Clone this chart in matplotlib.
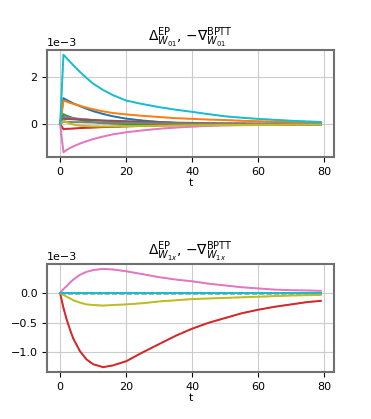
import numpy as np
import matplotlib
matplotlib.use("Agg")
import matplotlib.pyplot as plt

plt.rcParams['font.size'] = 8

# time steps at which values were read (units of 1e-3)
T = [0, 1, 2, 3, 4, 6, 8, 10, 13, 16, 20, 25, 30, 35, 40, 45, 50, 55, 60, 65, 70, 75, 79]

# W_01 panel, one curve per tab10 colour
w01_blue   = [0, 1.10, 1.02, 0.95, 0.88, 0.76, 0.65, 0.55, 0.43, 0.33, 0.23, 0.15, 0.09, 0.05, 0.02, 0.00, -0.01, -0.02, -0.02, -0.03, -0.03, -0.03, -0.03]
w01_orange = [0, 1.00, 0.95, 0.90, 0.86, 0.78, 0.70, 0.63, 0.54, 0.47, 0.41, 0.35, 0.30, 0.25, 0.22, 0.19, 0.17, 0.14, 0.12, 0.10, 0.08, 0.06, 0.05]
w01_green  = [0, 0.42, 0.35, 0.30, 0.25, 0.18, 0.12, 0.08, 0.04, 0.02, 0.00, -0.01, -0.01, -0.01, -0.01, -0.01, -0.01, 0.00, 0.00, 0.00, 0.00, 0.00, 0.00]
w01_red    = [0, -0.22, -0.20, -0.20, -0.19, -0.17, -0.16, -0.15, -0.13, -0.12, -0.10, -0.08, -0.06, -0.05, -0.04, -0.03, -0.02, -0.02, -0.01, -0.01, -0.01, 0.00, 0.00]
w01_purple = [0, 0.30, 0.28, 0.27, 0.25, 0.22, 0.20, 0.17, 0.14, 0.12, 0.09, 0.06, 0.04, 0.03, 0.02, 0.01, 0.01, 0.00, 0.00, 0.00, 0.00, 0.00, 0.00]
w01_brown  = [0, 0.22, 0.21, 0.21, 0.20, 0.19, 0.18, 0.17, 0.15, 0.14, 0.12, 0.10, 0.08, 0.06, 0.05, 0.04, 0.03, 0.03, 0.02, 0.02, 0.01, 0.01, 0.01]
w01_pink   = [0, -1.20, -1.10, -1.02, -0.95, -0.83, -0.73, -0.64, -0.53, -0.44, -0.35, -0.27, -0.20, -0.15, -0.11, -0.08, -0.06, -0.05, -0.04, -0.03, -0.02, -0.02, -0.01]
w01_gray   = [0, 0.10, 0.09, 0.09, 0.08, 0.08, 0.07, 0.07, 0.06, 0.05, 0.05, 0.04, 0.03, 0.03, 0.02, 0.02, 0.01, 0.01, 0.01, 0.01, 0.00, 0.00, 0.00]
w01_olive  = [0, 0.15, 0.08, 0.02, -0.02, -0.07, -0.09, -0.10, -0.10, -0.10, -0.09, -0.08, -0.07, -0.06, -0.05, -0.05, -0.04, -0.04, -0.03, -0.03, -0.02, -0.02, -0.02]
w01_cyan   = [0, 2.95, 2.80, 2.65, 2.50, 2.22, 1.96, 1.72, 1.45, 1.23, 1.00, 0.85, 0.72, 0.61, 0.52, 0.42, 0.33, 0.27, 0.22, 0.18, 0.14, 0.11, 0.09]

# W_1x panel
w1x_pink  = [0, 0.07, 0.12, 0.18, 0.23, 0.31, 0.36, 0.39, 0.41, 0.40, 0.37, 0.32, 0.27, 0.23, 0.20, 0.16, 0.13, 0.10, 0.08, 0.06, 0.05, 0.045, 0.04]
w1x_red   = [0, -0.25, -0.45, -0.62, -0.77, -0.98, -1.12, -1.20, -1.25, -1.22, -1.15, -1.00, -0.86, -0.72, -0.60, -0.50, -0.42, -0.34, -0.28, -0.23, -0.19, -0.15, -0.13]
w1x_olive = [0, -0.03, -0.06, -0.09, -0.12, -0.16, -0.19, -0.20, -0.21, -0.20, -0.19, -0.17, -0.14, -0.12, -0.10, -0.09, -0.08, -0.07, -0.06, -0.05, -0.04, -0.035, -0.03]
w1x_flat  = [0, 0, 0, 0, 0, 0, 0, 0, 0, 0, 0, 0, 0, 0, 0, 0, 0, 0, 0, 0, 0, 0, 0]

top_curves = [w01_blue, w01_orange, w01_green, w01_red, w01_purple,
              w01_brown, w01_pink, w01_gray, w01_olive, w01_cyan]
bottom_curves = [w1x_flat, w1x_flat, w1x_flat, w1x_red, w1x_flat,
                 w1x_flat, w1x_pink, w1x_flat, w1x_olive, w1x_flat]

titles = [r'$\Delta^{\mathrm{EP}}_{W_{01}}$, $-\nabla^{\mathrm{BPTT}}_{W_{01}}$',
          r'$\Delta^{\mathrm{EP}}_{W_{1x}}$, $-\nabla^{\mathrm{BPTT}}_{W_{1x}}$']

fig = plt.figure(figsize=(3.71, 4.19), dpi=100)
ax1 = fig.add_axes([0.127, 0.625, 0.773, 0.256])
ax2 = fig.add_axes([0.127, 0.112, 0.773, 0.258])

for ax, curves, title in zip([ax1, ax2], [top_curves, bottom_curves], titles):
    for i, c in enumerate(curves):
        y = np.array(c) * 1e-3
        ax.plot(T, y, color='C%d' % i, lw=1.4)
        ax.plot(T, y, color='C%d' % i, lw=1.0, ls='--', alpha=0.6)
    ax.set_title(title, fontsize=10, pad=2)
    ax.set_xlabel('t', labelpad=1)
    ax.set_xticks([0, 20, 40, 60, 80])
    ax.grid(True, color='#cccccc', lw=0.8)
    for s in ax.spines.values():
        s.set_color('#707070')
        s.set_linewidth(1.5)
    ax.ticklabel_format(axis='y', style='sci', scilimits=(0, 0))

fig.savefig('out.png', dpi=100)
